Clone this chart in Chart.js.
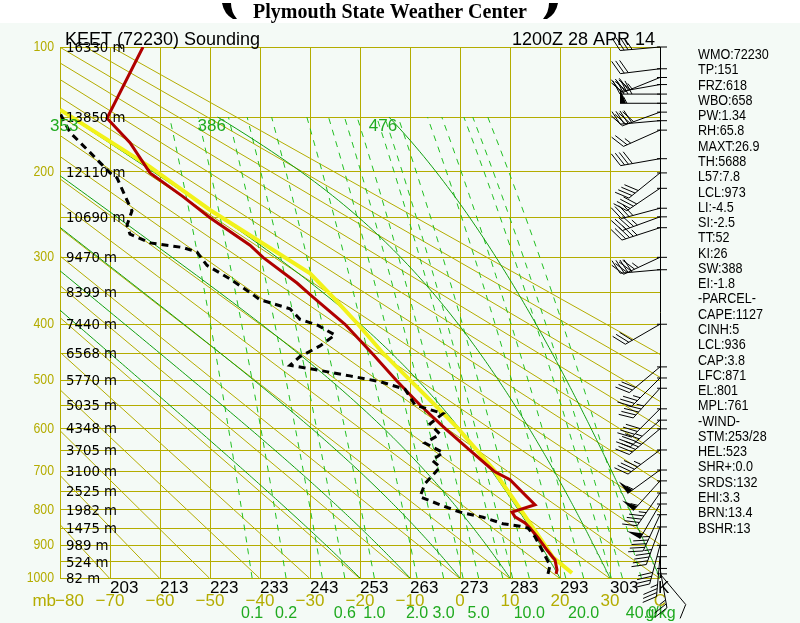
<!DOCTYPE html>
<html>
<head>
<meta charset="utf-8">
<title>KEET Sounding</title>
<script src="https://cdn.jsdelivr.net/npm/chart.js@4.4.1/dist/chart.umd.min.js"></script>
<style>
  html, body { margin: 0; padding: 0; background: #ffffff; }
  #wrap { width: 800px; height: 623px; }
</style>
</head>
<body>
<div id="wrap"><canvas id="sounding" width="800" height="623"></canvas></div>
<script>
// Stuve diagram: x = temperature (C), y = p^kappa
const KAPPA = 0.286;

// Pressure grid and heights of the levels (m)
const PRESSURE_LEVELS = [100, 150, 200, 250, 300, 350, 400, 450, 500, 550, 600, 650, 700, 750, 800, 850, 900, 950, 1000];
const LEVEL_HEIGHTS = [16330, 13850, 12110, 10690, 9470, 8399, 7440, 6568, 5770, 5035, 4348, 3705, 3100, 2525, 1982, 1475, 989, 524, 82];
const PRESSURE_LABELS = [100, 200, 300, 400, 500, 600, 700, 800, 900, 1000];

// Bottom tick labels
const CELSIUS_TICKS = [-80, -70, -60, -50, -40, -30, -20, -10, 0, 10, 20, 30];
const KELVIN_TICKS = [203, 213, 223, 233, 243, 253, 263, 273, 283, 293, 303];

// Background lines
const DRY_THETA = [193, 203, 213, 223, 233, 243, 253, 263, 273, 283, 293, 303, 313, 323, 333, 343, 353, 363, 373, 383, 393];
const MIX_RATIOS = [0.1, 0.2, 0.4, 0.6, 1, 2, 3, 4, 5, 7, 8, 10, 16, 20, 28, 32, 40];
const MIX_LABELS = ['0.1', '0.2', '0.6', '1.0', '2.0', '3.0', '5.0', '10.0', '20.0', '40.0'];
const MOIST_THETAW = [-20, -10, 0, 10, 20, 30, 40];
const MOIST_LABEL_THETAW = [20, 30, 40];
const MOIST_LABELS = ['353', '386', '476'];

// Temperature profile
const tempP = [987, 975, 944, 914, 878, 850, 836, 819, 806, 786, 765, 721, 700, 650, 600, 550, 500, 450, 400, 357, 336, 300, 284, 250, 226, 201, 172, 151, 100];
const tempT = [19.2, 19.4, 19.0, 17.4, 15.6, 14.0, 13.0, 11.0, 10.4, 15.0, 13.4, 10.0, 6.8, 2.0, -3.0, -8.0, -12.8, -17.6, -23.0, -29.4, -32.6, -39.4, -42.0, -50.0, -55.4, -62.0, -66.0, -70.6, -63.4];

// Dew point profile
const dewP = [987, 960, 875, 850, 845, 838, 820, 806, 786, 765, 731, 690, 673, 655, 633, 613, 590, 568, 550, 518, 503, 492, 481, 472, 456, 437, 418, 402, 392, 375, 361, 350, 330, 311, 293, 287, 281, 270, 259, 242, 230, 206, 201, 181, 163, 147];
const dewT = [17.6, 18.0, 15.0, 13.6, 12.0, 8.6, 4.6, 0.0, -4.0, -8.0, -7.0, -4.0, -5.6, -3.4, -7.0, -4.0, -6.0, -3.4, -9.0, -11.0, -16.0, -22.0, -28.4, -34.0, -32.0, -28.0, -25.0, -28.4, -32.0, -34.0, -40.0, -42.0, -46.0, -50.6, -52.6, -55.4, -62.0, -66.0, -66.6, -65.6, -66.6, -68.6, -70.0, -74.0, -78.0, -80.0];

// Lifted parcel
const parcelP = [984, 936, 866, 765, 721, 700, 650, 600, 550, 500, 450, 400, 357, 322, 277, 241, 195, 144];
const parcelT = [22.4, 18.6, 15.4, 10.4, 8.0, 7.0, 3.4, -0.4, -5.0, -10.0, -15.4, -20.4, -25.4, -30.0, -40.6, -50.0, -62.0, -80.0];

// Winds: pressure (mb), direction (deg), speed (kt)
const windP = [100, 114, 120, 125, 132, 139, 146, 153, 161, 187, 201, 217, 239, 249, 262, 300, 317, 400, 475, 496, 516, 558, 582, 601, 649, 697, 724, 755, 784, 813, 847, 900, 934, 970, 987];
const windDir = [265, 263, 248, 260, 270, 270, 250, 265, 246, 260, 231, 236, 255, 250, 252, 245, 265, 240, 230, 225, 222, 225, 228, 230, 233, 234, 222, 215, 210, 205, 200, 195, 185, 170, 140];
const windSpd = [35, 30, 30, 35, 40, 55, 40, 40, 25, 40, 40, 40, 40, 45, 45, 45, 40, 30, 30, 35, 45, 40, 45, 45, 45, 55, 55, 45, 50, 45, 45, 40, 35, 25, 10];

// Station indices
const STATS = ['WMO:72230', 'TP:151', 'FRZ:618', 'WBO:658', 'PW:1.34', 'RH:65.8', 'MAXT:26.9', 'TH:5688',
  'L57:7.8', 'LCL:973', 'LI:-4.5', 'SI:-2.5', 'TT:52', 'KI:26', 'SW:388', 'EI:-1.8', '-PARCEL-',
  'CAPE:1127', 'CINH:5', 'LCL:936', 'CAP:3.8', 'LFC:871', 'EL:801', 'MPL:761', '-WIND-',
  'STM:253/28', 'HEL:523', 'SHR+:0.0', 'SRDS:132', 'EHI:3.3', 'BRN:13.4', 'BSHR:13'];

const COLORS = {
    bg: '#f4faf6',
    yellow: '#b4ac00',
    green: '#10a010',
    greenDash: '#22c022',
    greenText: '#1faa1f',
    red: '#b00000',
    parcel: '#f2f21a',
    black: '#000000'
};

const SANS = '"Liberation Sans", Arial, sans-serif';

function pk(p) {
    return Math.pow(p, KAPPA);
}

function toPoints(ps, ts) {
    return ps.map((p, i) => ({ x: ts[i], y: pk(p) }));
}

// temperature (C) where saturation mixing ratio w (g/kg) is reached at p
function mixTemp(w, p) {
    const e = w * p / (622 + w);
    const a = Math.log(e / 6.112);
    return 243.5 * a / (17.67 - a);
}

function moistRate(T, p) {
    const es = 6.112 * Math.exp(17.67 * (T - 273.15) / (T - 29.65));
    const rs = 0.622 * es / (p - es);
    const num = (287.04 * T + 2.501e6 * rs) / p;
    const den = 1005.7 + (2.501e6 * 2.501e6 * rs * 0.622) / (287.04 * T * T);
    return num / den;
}

function moistAdiabat(thetaW) {
    const pts = [];
    let T = thetaW + 273.15;
    let p = 1000;
    const dp = -5;
    pts.push({ x: thetaW, y: pk(p) });
    while (p > 150) {
        const k1 = moistRate(T, p);
        const k2 = moistRate(T + k1 * dp, p + dp);
        T += 0.5 * (k1 + k2) * dp;
        p += dp;
        pts.push({ x: T - 273.15, y: pk(p) });
    }
    return pts;
}

function lineSet(data, color, width, order, dash) {
    return {
        data: data,
        showLine: true,
        borderColor: color,
        borderWidth: width,
        borderDash: dash || [],
        pointRadius: 0,
        pointHoverRadius: 0,
        fill: false,
        tension: 0,
        clip: 0,
        order: order
    };
}

const datasets = [];
datasets.push(lineSet(toPoints(dewP, dewT), COLORS.black, 3, 1, [7, 5]));
datasets.push(lineSet(toPoints(tempP, tempT), COLORS.red, 3, 2));
datasets.push(lineSet(toPoints(parcelP, parcelT), COLORS.parcel, 4, 3));

MOIST_THETAW.forEach(tw => {
    datasets.push(lineSet(moistAdiabat(tw), COLORS.green, 1, 10));
});

const mixLevels = [];
for (let p = 1000; p >= 150; p -= 25) mixLevels.push(p);
MIX_RATIOS.forEach(w => {
    datasets.push(lineSet(mixLevels.map(p => ({ x: mixTemp(w, p), y: pk(p) })), COLORS.greenDash, 1, 11, [6, 6]));
});

DRY_THETA.forEach(th => {
    const pts = [1000, 100].map(p => ({ x: th * Math.pow(p / 1000, KAPPA) - 273.15, y: pk(p) }));
    datasets.push(lineSet(pts, COLORS.yellow, 1, 12));
});

// text squeezed horizontally, like the narrow plotter font of the original
function narrowText(ctx, txt, x, y, align, squeeze) {
    ctx.save();
    ctx.translate(x, y);
    ctx.scale(squeeze, 1);
    ctx.textAlign = align;
    ctx.fillText(txt, 0, 0);
    ctx.restore();
}

function drawBarb(ctx, x0, y0, dir, spd) {
    const rad = dir * Math.PI / 180;
    const sx = Math.sin(rad);
    const sy = -Math.cos(rad);
    const fx = -sy, fy = sx;
    const L = 40, len = 15, gap = 4;
    const ex = x0 + L * sx, ey = y0 + L * sy;

    ctx.beginPath();
    ctx.moveTo(x0, y0);
    ctx.lineTo(ex, ey);
    ctx.stroke();

    let s = Math.round(spd / 5) * 5;
    let d = 0;
    while (s >= 50) {
        const px = ex - d * sx, py = ey - d * sy;
        ctx.beginPath();
        ctx.moveTo(px, py);
        ctx.lineTo(px + len * fx, py + len * fy);
        ctx.lineTo(px - 6 * sx, py - 6 * sy);
        ctx.closePath();
        ctx.fill();
        d += 7;
        s -= 50;
    }
    while (s >= 10) {
        const px = ex - d * sx, py = ey - d * sy;
        ctx.beginPath();
        ctx.moveTo(px, py);
        ctx.lineTo(px + len * (0.88 * fx + 0.47 * sx), py + len * (0.88 * fy + 0.47 * sy));
        ctx.stroke();
        d += gap;
        s -= 10;
    }
    if (s >= 5) {
        const px = ex - d * sx, py = ey - d * sy;
        ctx.beginPath();
        ctx.moveTo(px, py);
        ctx.lineTo(px + 0.5 * len * (0.88 * fx + 0.47 * sx), py + 0.5 * len * (0.88 * fy + 0.47 * sy));
        ctx.stroke();
    }
}

function drawFlag(ctx, x, flip) {
    ctx.save();
    ctx.translate(x, 0);
    if (flip) ctx.scale(-1, 1);
    ctx.beginPath();
    ctx.moveTo(0, 3);
    ctx.lineTo(9, 3);
    ctx.quadraticCurveTo(9, 12, 15, 19);
    ctx.lineTo(11, 19);
    ctx.quadraticCurveTo(2, 14, 0, 3);
    ctx.closePath();
    ctx.fill();
    ctx.restore();
}

const decorPlugin = {
    id: 'soundingDecor',
    beforeDraw(chart) {
        const ctx = chart.ctx;
        ctx.save();
        ctx.fillStyle = '#ffffff';
        ctx.fillRect(0, 0, chart.width, chart.height);
        ctx.fillStyle = COLORS.bg;
        ctx.fillRect(0, 23, chart.width, chart.height - 23);
        ctx.restore();
    },
    afterDraw(chart) {
        const ctx = chart.ctx;
        const xs = chart.scales.x;
        const ys = chart.scales.y;
        const area = chart.chartArea;
        ctx.save();

        // header
        ctx.fillStyle = COLORS.black;
        ctx.font = 'bold 20px "Liberation Serif", "DejaVu Serif", serif';
        ctx.textAlign = 'center';
        ctx.textBaseline = 'alphabetic';
        ctx.fillText('Plymouth State Weather Center', 390, 18);
        drawFlag(ctx, 222, false);
        drawFlag(ctx, 558, true);

        // title lines
        ctx.font = '18px ' + SANS;
        ctx.textAlign = 'left';
        ctx.fillText('KEET (72230) Sounding', 65, 45);
        ctx.textAlign = 'right';
        ctx.fillText('1200Z 28 APR 14', 655, 45);

        // pressure labels
        ctx.fillStyle = COLORS.yellow;
        ctx.font = '15px ' + SANS;
        ctx.textBaseline = 'middle';
        PRESSURE_LABELS.forEach(p => {
            narrowText(ctx, String(p), area.left - 6, ys.getPixelForValue(pk(p)), 'right', 0.82);
        });

        // heights
        ctx.fillStyle = COLORS.black;
        ctx.font = '14px "DejaVu Sans", sans-serif';
        PRESSURE_LEVELS.forEach((p, i) => {
            narrowText(ctx, LEVEL_HEIGHTS[i] + ' m', area.left + 6, ys.getPixelForValue(pk(p)) + 1, 'left', 0.95);
        });

        // kelvin labels under the 1000 mb line
        ctx.font = '17px ' + SANS;
        ctx.textBaseline = 'top';
        ctx.textAlign = 'left';
        KELVIN_TICKS.forEach(k => {
            ctx.fillText(String(k), xs.getPixelForValue(k - 273), area.bottom + 2);
        });
        ctx.fillText('K', xs.getPixelForValue(40) - 2, area.bottom + 2);

        // celsius labels
        ctx.fillStyle = COLORS.yellow;
        ctx.textBaseline = 'middle';
        const cy = area.bottom + 23;
        ctx.textAlign = 'right';
        ctx.fillText('mb', area.left - 4, cy);
        CELSIUS_TICKS.forEach(t => {
            const txt = t < 0 ? '\u2212' + Math.abs(t) : String(t);
            const x = xs.getPixelForValue(t);
            ctx.textAlign = t === -80 ? 'left' : 'center';
            ctx.fillText(txt, t === -80 ? x - 5 : x, cy);
        });
        ctx.textAlign = 'center';
        ctx.fillText('C', xs.getPixelForValue(40), cy);

        // mixing ratio labels
        ctx.fillStyle = COLORS.greenText;
        ctx.font = '16px ' + SANS;
        const my = area.bottom + 36;
        ctx.textAlign = 'center';
        MIX_LABELS.forEach(lbl => {
            ctx.fillText(lbl, xs.getPixelForValue(mixTemp(parseFloat(lbl), 1000)), my);
        });
        ctx.textAlign = 'left';
        ctx.fillText('g/kg', xs.getPixelForValue(mixTemp(40, 1000)) + 4, my);

        // moist adiabat labels at 150 mb, centred on the line
        ctx.font = '17px ' + SANS;
        ctx.textBaseline = 'top';
        ctx.textAlign = 'center';
        MOIST_LABEL_THETAW.forEach((tw, i) => {
            const pts = moistAdiabat(tw);
            const last = pts[pts.length - 1];
            ctx.fillText(MOIST_LABELS[i], xs.getPixelForValue(last.x) - 6, ys.getPixelForValue(pk(150)) + 1);
        });

        // wind column
        const x0 = xs.getPixelForValue(40);
        ctx.strokeStyle = COLORS.black;
        ctx.fillStyle = COLORS.black;
        ctx.lineWidth = 1;
        ctx.beginPath();
        ctx.moveTo(x0 + 0.5, area.top);
        ctx.lineTo(x0 + 0.5, area.bottom);
        ctx.stroke();
        windP.forEach((p, i) => {
            const y0 = ys.getPixelForValue(pk(p));
            ctx.beginPath();
            ctx.moveTo(x0 - 3, y0);
            ctx.lineTo(x0 + 7, y0);
            ctx.stroke();
            drawBarb(ctx, x0, y0, windDir[i], windSpd[i]);
        });

        // station indices
        ctx.fillStyle = COLORS.black;
        ctx.font = '15px ' + SANS;
        ctx.textBaseline = 'middle';
        STATS.forEach((s, i) => {
            narrowText(ctx, s, 698, 55 + i * 15.27, 'left', 0.84);
        });

        ctx.restore();
    }
};

const chart = new Chart(document.getElementById('sounding'), {
    type: 'scatter',
    data: { datasets: datasets },
    options: {
        responsive: false,
        animation: false,
        devicePixelRatio: 1,
        events: [],
        layout: { padding: { left: 60, top: 47, right: 140, bottom: 45 } },
        plugins: { legend: { display: false }, tooltip: { enabled: false } },
        scales: {
            x: {
                type: 'linear',
                min: -80,
                max: 40,
                ticks: { stepSize: 10, display: false },
                grid: { color: COLORS.yellow, lineWidth: 1, drawTicks: false },
                border: { display: false }
            },
            y: {
                type: 'linear',
                reverse: true,
                min: pk(100),
                max: pk(1000),
                afterBuildTicks: axis => {
                    axis.ticks = PRESSURE_LEVELS.map(p => ({ value: pk(p) }));
                },
                ticks: { display: false },
                grid: { color: COLORS.yellow, lineWidth: 1, drawTicks: false },
                border: { display: false }
            }
        }
    },
    plugins: [decorPlugin]
});
</script>
</body>
</html>
